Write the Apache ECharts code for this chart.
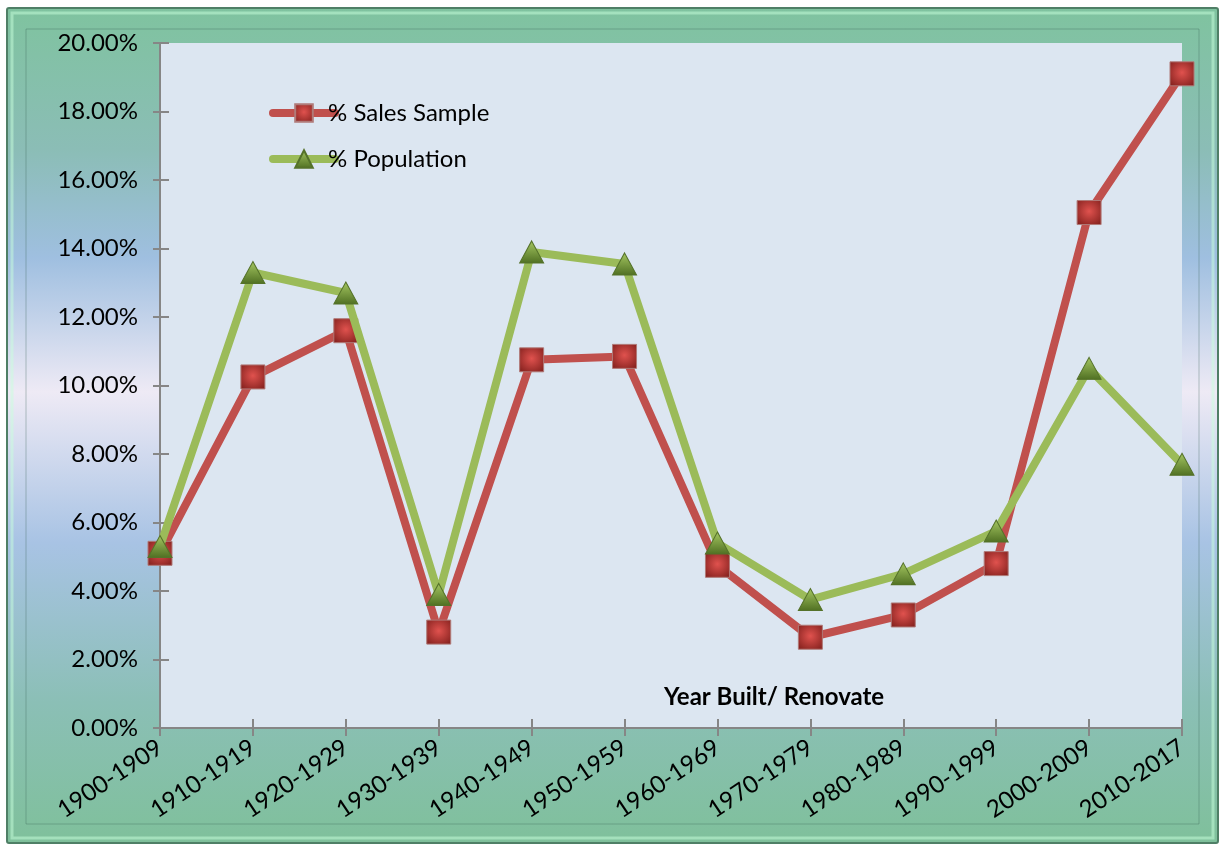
<!DOCTYPE html>
<html>
<head>
<meta charset="utf-8">
<script src="https://cdn.jsdelivr.net/npm/echarts@6/dist/echarts.min.js"></script>
<style>
  html, body { margin: 0; padding: 0; background: #fff; }
  #chart { width: 1223px; height: 849px; }
</style>
</head>
<body>
<div id="chart"></div>
<script>
// categories + values (in %)
const decades = ['1900-1909', '1910-1919', '1920-1929', '1930-1939', '1940-1949', '1950-1959',
  '1960-1969', '1970-1979', '1980-1989', '1990-1999', '2000-2009', '2010-2017'];
const salesSample = [5.1, 10.25, 11.6, 2.8, 10.75, 10.85, 4.75, 2.65, 3.3, 4.8, 15.05, 19.1];
const population = [5.3, 13.3, 12.7, 3.9, 13.9, 13.55, 5.4, 3.75, 4.5, 5.75, 10.5, 7.7];
const seriesNames = ['% Sales Sample', '% Population'];
const axisTitle = 'Year Built/ Renovate';

const font = 'Lato, "Open Sans", sans-serif';
const axisGray = '#868686';

let frameFill = new echarts.graphic.LinearGradient(0, 0, 0, 1, [
  { offset: 0, color: '#7fc39f' },
  { offset: 0.17, color: '#8bbdb6' },
  { offset: 0.3, color: '#9fbfe0' },
  { offset: 0.46, color: '#eeeaf5' },
  { offset: 0.64, color: '#a8c3e4' },
  { offset: 0.83, color: '#8bbfb6' },
  { offset: 1, color: '#7fc09b' }
]);

let option = {
  animation: false,
  backgroundColor: '#ffffff',
  graphic: [
    {
      type: 'rect', z: -10, silent: true,
      shape: { x: 7, y: 8, width: 1211, height: 835, r: 2 },
      style: { fill: frameFill, stroke: '#4f7f66', lineWidth: 2 }
    },
    {
      type: 'rect', z: -9, silent: true,
      shape: { x: 12, y: 13, width: 1201, height: 825 },
      style: { fill: 'none', stroke: 'rgba(200,255,220,0.5)', lineWidth: 3 }
    },
    {
      type: 'rect', z: -9, silent: true,
      shape: { x: 26, y: 29, width: 1173, height: 795 },
      style: { fill: 'none', stroke: 'rgba(60,100,90,0.35)', lineWidth: 1 }
    },
    {
      type: 'text', z: 10,
      left: 664, top: 685,
      style: { text: axisTitle, font: 'bold 24px ' + font, fill: '#000' }
    }
  ],
  legend: {
    left: 264, top: 96,
    orient: 'vertical',
    itemWidth: 62, itemHeight: 22, itemGap: 22,
    lineStyle: { width: 8, cap: 'round' },
    textStyle: { fontFamily: font, fontSize: 24, color: '#000', padding: [0, 0, 0, -12] },
    data: seriesNames
  },
  grid: { left: 160, right: 41, top: 43, bottom: 121, show: true, backgroundColor: '#dce6f1', borderWidth: 0 },
  xAxis: [
    {
      type: 'category', data: decades, boundaryGap: false,
      axisLine: { lineStyle: { color: axisGray, width: 2 } },
      axisTick: { alignWithLabel: true, length: 8, lineStyle: { color: axisGray, width: 2 } },
      axisLabel: { rotate: 34, margin: 17, fontFamily: font, fontSize: 24, color: '#000', interval: 0 },
      splitLine: { show: false }
    },
    {
      type: 'category', data: decades, boundaryGap: false, position: 'bottom',
      axisLine: { show: false },
      axisTick: { inside: true, length: 9, lineStyle: { color: axisGray, width: 2 } },
      axisLabel: { show: false }
    }
  ],
  yAxis: [
    {
      type: 'value', min: 0, max: 20, interval: 2,
      axisLine: { show: true, lineStyle: { color: axisGray, width: 2 } },
      axisTick: { show: true, length: 7, lineStyle: { color: axisGray, width: 2 } },
      axisLabel: { margin: 22, fontFamily: font, fontSize: 24, color: '#000', formatter: v => v.toFixed(2) + '%' },
      splitLine: { show: false }
    },
    {
      type: 'value', min: 0, max: 20, interval: 2, position: 'left',
      axisLine: { show: false },
      axisTick: { show: true, inside: true, length: 9, lineStyle: { color: axisGray, width: 2 } },
      axisLabel: { show: false },
      splitLine: { show: false }
    }
  ],
  series: [
    {
      name: seriesNames[0], type: 'line', data: salesSample,
      symbol: 'rect', symbolSize: 24, z: 3,
      lineStyle: { color: '#c0504d', width: 8 },
      itemStyle: {
        color: new echarts.graphic.RadialGradient(0.5, 0.45, 0.7, [
          { offset: 0, color: '#e0524e' },
          { offset: 1, color: '#801f1c' }
        ]),
        borderColor: '#b07a78', borderWidth: 1
      }
    },
    {
      name: seriesNames[1], type: 'line', data: population,
      symbol: 'triangle', symbolSize: [24, 22], z: 4,
      lineStyle: { color: '#9bbb59', width: 8 },
      itemStyle: {
        color: new echarts.graphic.LinearGradient(0, 0, 0, 1, [
          { offset: 0, color: '#a6c862' },
          { offset: 1, color: '#4f6f22' }
        ]),
        borderColor: '#55722a', borderWidth: 1
      }
    }
  ]
};

let mychart = echarts.init(document.getElementById('chart'));
mychart.setOption(option);
</script>
</body>
</html>
